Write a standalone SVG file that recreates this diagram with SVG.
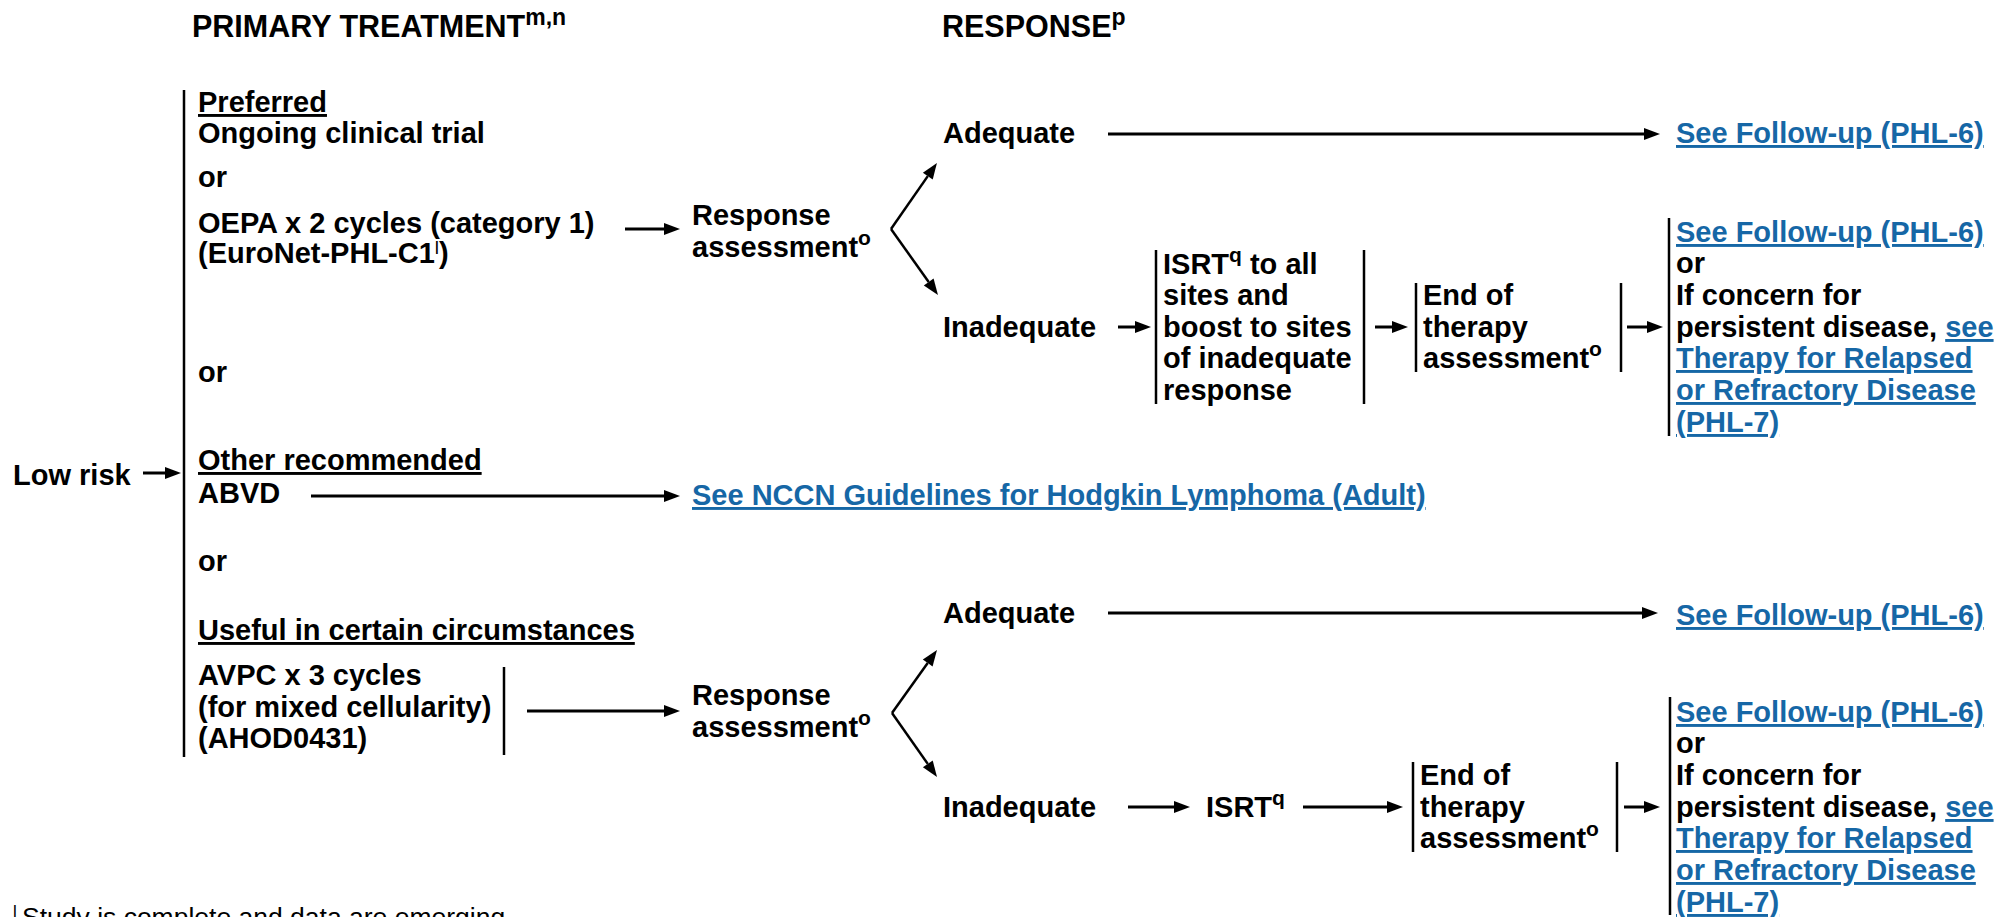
<svg xmlns="http://www.w3.org/2000/svg" width="2001" height="917" viewBox="0 0 2001 917">
<style>
text{font-family:"Liberation Sans",Arial,sans-serif;font-weight:bold;font-size:29px;fill:#000}
.h{font-size:30.5px}
.u{text-decoration:underline}
.lk{fill:#1667a6;text-decoration:underline}
.sup{font-size:21px}
.hs{font-size:23px}
.fn{font-weight:normal;font-size:26.5px}
.br{stroke:#000;stroke-width:2.5;fill:none}
.ar{stroke:#000;stroke-width:3;fill:none;marker-end:url(#ah)}
.ad{stroke:#000;stroke-width:2.5;fill:none;marker-end:url(#ah)}
</style>
<defs>
<marker id="ah" markerUnits="userSpaceOnUse" markerWidth="16" markerHeight="12" refX="0" refY="6" orient="auto" overflow="visible">
<path d="M0,0 L16,6 L0,12 z" fill="#000"/>
</marker>
</defs>
<rect width="2001" height="917" fill="#fff"/>

<g id="headers">
<text x="192" y="37" class="h">PRIMARY TREATMENT<tspan class="hs" dy="-12">m,n</tspan></text>
<text x="942" y="37" class="h">RESPONSE<tspan class="hs" dy="-12">p</tspan></text>
</g>

<g id="low-risk"><text x="13" y="485">Low risk</text></g>

<g id="primary-options">
<line class="br" x1="184" y1="90" x2="184" y2="757"/>
<text x="198" y="112" class="u">Preferred</text>
<text x="198" y="143">Ongoing clinical trial</text>
<text x="198" y="187">or</text>
<text x="198" y="233">OEPA x 2 cycles (category 1)</text>
<text x="198" y="263">(EuroNet-PHL-C1<tspan font-weight="normal" style="font-size:19px" dy="-9">l</tspan><tspan dy="9">)</tspan></text>
<text x="198" y="382">or</text>
<text x="198" y="470" class="u">Other recommended</text>
<text x="198" y="503">ABVD</text>
<text x="198" y="571">or</text>
<text x="198" y="640" class="u">Useful in certain circumstances</text>
</g>

<g id="avpc">
<text x="198" y="685">AVPC x 3 cycles</text>
<text x="198" y="717">(for mixed cellularity)</text>
<text x="198" y="748">(AHOD0431)</text>
<line class="br" x1="504" y1="667" x2="504" y2="755"/>
</g>

<g id="response-top">
<text x="692" y="225">Response</text>
<text x="692" y="257">assessment<tspan class="sup" dy="-12">o</tspan></text>
</g>
<g id="adequate-top"><text x="943" y="143">Adequate</text></g>
<g id="followup-top"><text x="1676" y="143" class="lk">See Follow-up (PHL-6)</text></g>
<g id="inadequate-top"><text x="943" y="337">Inadequate</text></g>

<g id="isrt-boost">
<line class="br" x1="1156" y1="250" x2="1156" y2="404"/>
<line class="br" x1="1364" y1="250" x2="1364" y2="404"/>
<text x="1163" y="274">ISRT<tspan class="sup" dy="-12">q</tspan><tspan dy="12"> to all</tspan></text>
<text x="1163" y="305">sites and</text>
<text x="1163" y="337">boost to sites</text>
<text x="1163" y="368">of inadequate</text>
<text x="1163" y="400">response</text>
</g>

<g id="end-top">
<line class="br" x1="1416" y1="283" x2="1416" y2="372"/>
<line class="br" x1="1621" y1="283" x2="1621" y2="372"/>
<text x="1423" y="305">End of</text>
<text x="1423" y="337">therapy</text>
<text x="1423" y="368">assessment<tspan class="sup" dy="-12">o</tspan></text>
</g>

<g id="outcome-top">
<line class="br" x1="1669" y1="218" x2="1669" y2="436"/>
<text x="1676" y="242" class="lk">See Follow-up (PHL-6)</text>
<text x="1676" y="273">or</text>
<text x="1676" y="305">If concern for</text>
<text x="1676" y="337">persistent disease, <tspan class="lk">see</tspan></text>
<text x="1676" y="368" class="lk">Therapy for Relapsed</text>
<text x="1676" y="400" class="lk">or Refractory Disease</text>
<text x="1676" y="432" class="lk">(PHL-7)</text>
</g>

<g id="nccn"><text x="692" y="505" class="lk">See NCCN Guidelines for Hodgkin Lymphoma (Adult)</text></g>

<g id="response-bottom">
<text x="692" y="705">Response</text>
<text x="692" y="737">assessment<tspan class="sup" dy="-12">o</tspan></text>
</g>
<g id="adequate-bottom"><text x="943" y="623">Adequate</text></g>
<g id="followup-bottom"><text x="1676" y="625" class="lk">See Follow-up (PHL-6)</text></g>
<g id="inadequate-bottom"><text x="943" y="817">Inadequate</text></g>
<g id="isrt-bottom"><text x="1206" y="817">ISRT<tspan class="sup" dy="-12">q</tspan></text></g>

<g id="end-bottom">
<line class="br" x1="1413" y1="762" x2="1413" y2="852"/>
<line class="br" x1="1617" y1="762" x2="1617" y2="852"/>
<text x="1420" y="785">End of</text>
<text x="1420" y="817">therapy</text>
<text x="1420" y="848">assessment<tspan class="sup" dy="-12">o</tspan></text>
</g>

<g id="outcome-bottom">
<line class="br" x1="1670" y1="697" x2="1670" y2="915"/>
<text x="1676" y="722" class="lk">See Follow-up (PHL-6)</text>
<text x="1676" y="753">or</text>
<text x="1676" y="785">If concern for</text>
<text x="1676" y="817">persistent disease, <tspan class="lk">see</tspan></text>
<text x="1676" y="848" class="lk">Therapy for Relapsed</text>
<text x="1676" y="880" class="lk">or Refractory Disease</text>
<text x="1676" y="912" class="lk">(PHL-7)</text>
</g>

<g id="footnote">
<text x="13" y="917" class="fn" style="font-size:17px">l</text>
<text x="22" y="926" class="fn">Study is complete and data are emerging.</text>
</g>

<g id="connectors">
<line class="ar" x1="143" y1="473" x2="165" y2="473"/>
<line class="ar" x1="625" y1="229" x2="664" y2="229"/>
<line class="ad" x1="891" y1="229" x2="927.8" y2="176.1"/>
<line class="ad" x1="891" y1="229" x2="928.7" y2="282"/>
<line class="ar" x1="1108" y1="134" x2="1644" y2="134"/>
<line class="ar" x1="1118" y1="327" x2="1135" y2="327"/>
<line class="ar" x1="1375" y1="327" x2="1392" y2="327"/>
<line class="ar" x1="1627" y1="327" x2="1647" y2="327"/>
<line class="ar" x1="311" y1="496" x2="664" y2="496"/>
<line class="ar" x1="527" y1="711" x2="664" y2="711"/>
<line class="ad" x1="892" y1="713" x2="927.7" y2="663"/>
<line class="ad" x1="892" y1="713" x2="927.8" y2="763.9"/>
<line class="ar" x1="1108" y1="613" x2="1642" y2="613"/>
<line class="ar" x1="1128" y1="807" x2="1174" y2="807"/>
<line class="ar" x1="1303" y1="807" x2="1387" y2="807"/>
<line class="ar" x1="1624" y1="807" x2="1644" y2="807"/>
</g>
</svg>
